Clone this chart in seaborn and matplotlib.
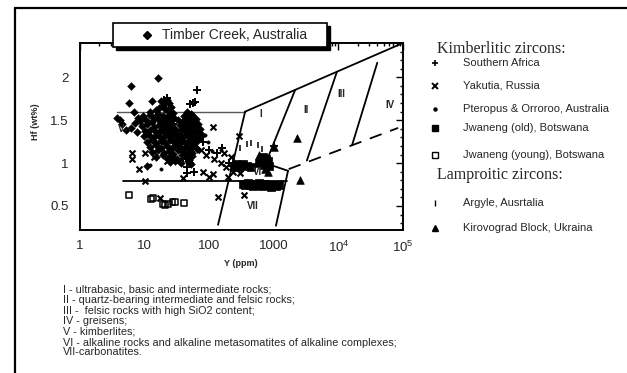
import matplotlib
matplotlib.use("Agg")
import numpy as np
import pandas as pd
import matplotlib.pyplot as plt
import seaborn as sns
from matplotlib.lines import Line2D
from matplotlib.patches import Rectangle
from matplotlib.ticker import FixedLocator, FixedFormatter, MultipleLocator, LogLocator, NullFormatter

# ---------------- data (Y ppm, Hf wt%) ----------------
timber_creek = [
    (6.2, 1.90), (16, 1.99), (5.7, 1.70), (13, 1.72), (6.8, 1.59), (3.8, 1.53), (6.2, 1.41),
    (4.5, 1.46), (5.2, 1.38), (11, 0.97), (4.2, 1.50), (7.2, 1.47), (7.6, 1.36), (8.0, 1.52),
    (18, 1.72), (20, 1.69), (22, 1.74), (19, 1.66), (24, 1.70),
    (15, 1.62), (17, 1.64), (21, 1.63), (23, 1.61), (26, 1.65), (12, 1.60), (28, 1.58), (46, 1.60), (52, 1.57),
    (9.5, 1.55), (12, 1.56), (14, 1.53), (16, 1.57), (19, 1.55), (22, 1.54), (25, 1.56), (29, 1.52),
    (41, 1.55), (48, 1.53), (55, 1.56), (62, 1.51),
    (8.6, 1.49), (10.5, 1.50), (13, 1.48), (16, 1.51), (18, 1.47), (21, 1.50), (24, 1.49), (27, 1.46),
    (33, 1.50), (38, 1.48), (44, 1.51), (50, 1.47), (57, 1.49), (66, 1.46),
    (9.2, 1.43), (11, 1.45), (14, 1.42), (17, 1.44), (20, 1.41), (22, 1.45), (25, 1.43), (30, 1.40),
    (35, 1.44), (41, 1.42), (46, 1.45), (53, 1.41), (60, 1.44), (71, 1.40),
    (10, 1.37), (12, 1.39), (15, 1.36), (18, 1.38), (21, 1.35), (24, 1.39), (28, 1.37), (32, 1.34),
    (37, 1.38), (43, 1.36), (49, 1.39), (55, 1.35), (63, 1.37), (76, 1.33),
    (9.8, 1.31), (11.5, 1.33), (14, 1.30), (16.5, 1.32), (19, 1.29), (23, 1.33), (26, 1.31), (31, 1.28),
    (36, 1.32), (40, 1.30), (45, 1.33), (51, 1.29), (58, 1.31), (67, 1.28),
    (10.8, 1.25), (13, 1.27), (15, 1.24), (18, 1.26), (21, 1.23), (25, 1.27), (29, 1.25), (34, 1.22),
    (39, 1.26), (44, 1.24), (50, 1.27), (56, 1.23), (62, 1.25),
    (12, 1.19), (15, 1.21), (18, 1.18), (22, 1.20), (26, 1.17), (30, 1.21), (35, 1.19), (41, 1.16),
    (46, 1.20), (52, 1.18), (57, 1.21), (65, 1.17),
    (13, 1.13), (16, 1.15), (20, 1.12), (24, 1.14), (28, 1.11), (33, 1.15), (39, 1.13), (45, 1.10),
    (50, 1.14), (55, 1.12),
    (15, 1.07), (19, 1.09), (23, 1.06), (27, 1.08), (32, 1.05), (38, 1.09), (44, 1.07), (49, 1.04), (54, 1.08),
    (25, 1.01), (30, 1.03), (47, 1.02), (52, 0.99), (36, 1.00),
]
southern_africa = [
    (65, 1.85), (56, 1.70), (50, 1.69), (60, 1.71), (20, 1.73), (22, 1.76), (45, 0.95), (46, 0.88),
    (58, 0.90), (50, 1.00), (40, 1.05), (70, 1.35), (80, 1.25), (100, 1.15), (130, 1.12), (160, 1.18),
    (200, 1.00), (240, 0.97), (1000, 1.20), (28, 1.45), (35, 1.25), (18, 1.35), (62, 1.42),
]
yakutia = [
    (6.3, 1.12), (6.3, 1.05), (8.2, 0.93), (10.2, 0.79), (10.2, 1.12), (14, 1.13), (14, 1.07), (22, 1.02),
    (39, 0.83), (80, 0.90), (115, 0.87), (100, 0.84), (195, 0.84), (170, 1.12), (215, 1.07), (135, 0.60),
    (17.5, 0.59), (115, 1.42), (290, 1.31), (340, 0.63), (60, 1.22), (70, 1.30), (75, 1.15), (90, 1.10),
    (120, 1.05), (150, 1.00), (180, 0.96), (230, 0.90), (260, 0.95), (300, 0.88),
]
pteropus_orroroo = [
    (12, 0.98), (18, 0.93), (150, 1.15), (110, 1.14), (60, 1.30), (95, 1.25), (85, 1.33), (40, 1.10),
]
jwaneng_old = [
    (330, 0.76), (360, 0.74), (400, 0.77), (430, 0.75), (470, 0.73), (520, 0.76), (560, 0.74), (600, 0.77),
    (650, 0.73), (700, 0.76), (760, 0.75), (800, 0.74), (900, 0.72), (1000, 0.75), (1100, 0.73), (1200, 0.74),
    (240, 0.97), (260, 0.99), (290, 0.96), (330, 0.99), (380, 0.97), (450, 0.96), (600, 1.00),
    (700, 0.98), (800, 1.02), (850, 0.97), (750, 1.05), (680, 1.07),
]
jwaneng_young = [
    (5.8, 0.63), (12.5, 0.58), (13.5, 0.59), (19, 0.52), (21, 0.51), (23, 0.52), (27, 0.55), (30, 0.55), (41, 0.53),
]
argyle = [(380, 1.22), (440, 1.23), (560, 1.21), (660, 1.16), (300, 1.18)]
kirovograd = [(2300, 1.29), (2550, 0.80), (1000, 1.19), (820, 0.90), (600, 1.09), (720, 0.93)]

# field boundaries (Y, Hf vertices)
line_upper_flat_Y, line_upper_flat_Hf = [3.7, 360], [1.6, 1.6]
line_upper_Y, line_upper_Hf = [360, 1e5], [1.6, 2.4]
line_left_Y, line_left_Hf = [137, 360], [0.28, 1.6]
line_lower_Y, line_lower_Hf = [4.6, 1600], [0.79, 0.79]
line_vi_top_Y, line_vi_top_Hf = [229, 880, 1660], [0.98, 0.98, 0.91]
line_vi_right_Y, line_vi_right_Hf = [1660, 1080], [0.91, 0.27]
line_1_2_Y, line_1_2_Hf = [2140, 750], [1.853, 1.0]
line_2_3_Y, line_2_3_Hf = [9500, 3250], [2.066, 1.03]
line_3_4_Y, line_3_4_Hf = [40000, 16300], [2.17, 1.21]
line_dash_Y, line_dash_Hf = [1700, 84000], [0.93, 1.41]

x_ticks = [1, 10, 100, 1000, 1e4, 1e5]
x_ticklabels = ["1", "10", "100", "1000", "$10^4$", "$10^5$"]
y_ticks = [0.5, 1, 1.5, 2]
y_ticklabels = ["0.5", "1", "1.5", "2"]

region_labels = [("I", 620, 1.57), ("II", 3100, 1.62), ("III", 11000, 1.80), ("IV", 63000, 1.68),
                 ("V", 4.4, 1.40), ("VI", 560, 0.90), ("VII", 470, 0.50)]

notes = [
    "I - ultrabasic, basic and intermediate rocks;",
    "II - quartz-bearing intermediate and felsic rocks;",
    "III -  felsic rocks with high SiO2 content;",
    "IV - greisens;",
    "V - kimberlites;",
    "VI - alkaline rocks and alkaline metasomatites of alkaline complexes;",
    "VII-carbonatites.",
]

# ---------------- figure ----------------
sns.set_style("white")
plt.rcParams['font.family'] = ['Liberation Sans', 'DejaVu Sans']
plt.rcParams['mathtext.fontset'] = 'custom'
plt.rcParams['mathtext.rm'] = 'Liberation Sans'

W, H = 627, 373
fig = plt.figure(figsize=(W / 100, H / 100), dpi=100)
fig.patch.set_facecolor("white")
ax = fig.add_axes([80 / W, 1 - 230 / H, 323 / W, 187 / H])
ax.set_xscale("log")

def draw(pts, **kw):
    df = pd.DataFrame(pts, columns=["Y", "Hf"])
    sns.scatterplot(data=df, x="Y", y="Hf", ax=ax, legend=False, color="black", zorder=3, **kw)

draw(timber_creek, marker="D", s=16, edgecolor="black", linewidth=0.3)
draw(southern_africa, marker="+", s=28, linewidth=1.4)
draw(yakutia, marker="x", s=18, linewidth=1.5)
draw(pteropus_orroroo, marker="o", s=6, edgecolor="black", linewidth=0.3)
draw(jwaneng_old, marker="s", s=32, edgecolor="black", linewidth=0.5)
draw(jwaneng_young, marker="s", s=18, facecolor="none", edgecolor="black", linewidth=1.1)
draw(argyle, marker="|", s=20, linewidth=1.1)
draw(kirovograd, marker="^", s=30, edgecolor="black", linewidth=0.5)

ax.plot(line_upper_flat_Y, line_upper_flat_Hf, color="0.35", lw=1.0, zorder=2)
for xs, ys in [(line_upper_Y, line_upper_Hf), (line_left_Y, line_left_Hf), (line_lower_Y, line_lower_Hf),
               (line_vi_top_Y, line_vi_top_Hf), (line_vi_right_Y, line_vi_right_Hf),
               (line_1_2_Y, line_1_2_Hf), (line_2_3_Y, line_2_3_Hf), (line_3_4_Y, line_3_4_Hf)]:
    ax.plot(xs, ys, color="black", lw=1.3, zorder=2)
ax.plot(line_dash_Y, line_dash_Hf, color="black", lw=1.3, dashes=(7, 5), zorder=2)

for lab, xv, yv in region_labels:
    ax.text(xv, yv, lab, fontsize=7, fontweight="bold", ha="center", va="center", zorder=4)

ax.set_xlim(1, 1e5)
ax.set_ylim(0.22, 2.40)
ax.xaxis.set_major_locator(FixedLocator(x_ticks))
ax.xaxis.set_major_formatter(FixedFormatter(x_ticklabels))
ax.xaxis.set_minor_locator(LogLocator(base=10, subs=np.arange(2, 10), numticks=20))
ax.xaxis.set_minor_formatter(NullFormatter())
ax.yaxis.set_major_locator(FixedLocator(y_ticks))
ax.yaxis.set_major_formatter(FixedFormatter(y_ticklabels))
ax.yaxis.set_minor_locator(MultipleLocator(0.1))
ax.tick_params(which="both", direction="in", top=True, right=True, color="black", width=1.0)
ax.tick_params(which="major", length=5, labelsize=9.5)
ax.tick_params(which="minor", length=2.5)
ax.tick_params(axis="x", which="major", pad=7)
ax.tick_params(axis="y", which="major", pad=8)
for sp in ax.spines.values():
    sp.set_color("black")
    sp.set_linewidth(1.4)
ax.set_xlabel("")
ax.set_ylabel("")

def fx(p): return p / W
def fy(p): return 1 - p / H

fig.text(fx(241), fy(264), "Y (ppm)", fontsize=6.5, fontweight="bold", ha="center", va="center")
fig.text(fx(35), fy(122), "Hf (wt%)", fontsize=6.5, fontweight="bold", ha="center", va="center",
         rotation=90)

# Timber Creek boxed label with shadow
bx0, bx1, by0, by1 = 113, 327, 23, 47
fig.add_artist(Rectangle((fx(bx0 + 3), fy(by1 + 3)), fx(bx1 - bx0), (by1 - by0) / H,
                         transform=fig.transFigure, facecolor="black", edgecolor="black", zorder=10))
fig.add_artist(Rectangle((fx(bx0), fy(by1)), fx(bx1 - bx0), (by1 - by0) / H,
                         transform=fig.transFigure, facecolor="white", edgecolor="black", lw=1.2, zorder=11))
fig.add_artist(Line2D([fx(147)], [fy(35)], marker="D", markersize=3.6, color="black",
                      transform=fig.transFigure, zorder=12))
fig.text(fx(162), fy(35), "Timber Creek, Australia", fontsize=10, va="center", ha="left", zorder=12)

# right-hand legend
serif = ["Liberation Serif", "DejaVu Serif"]
fig.text(fx(437), fy(49), "Kimberlitic zircons:", fontsize=11.5, family=serif, va="center", ha="left")
fig.text(fx(437), fy(175), "Lamproitic zircons:", fontsize=11.5, family=serif, va="center", ha="left")
legend_rows = [
    ("+", dict(markersize=5, markeredgewidth=1.2), "Southern Africa", 63),
    ("x", dict(markersize=4, markeredgewidth=1.4), "Yakutia, Russia", 86),
    ("o", dict(markersize=2.2), "Pteropus & Orroroo, Australia", 109),
    ("s", dict(markersize=4.5), "Jwaneng (old), Botswana", 128),
    ("s", dict(markersize=4, markerfacecolor="none", markeredgewidth=1.0), "Jwaneng (young), Botswana", 155),
    ("|", dict(markersize=4, markeredgewidth=1.0), "Argyle, Ausrtalia", 203),
    ("^", dict(markersize=4.5), "Kirovograd Block, Ukraina", 228),
]
for mk, style, lab, yy in legend_rows:
    kw = dict(color="black", markeredgecolor="black")
    kw.update(style)
    fig.add_artist(Line2D([fx(435)], [fy(yy)], marker=mk, linestyle="none",
                          transform=fig.transFigure, **kw))
    fig.text(fx(463), fy(yy), lab, fontsize=8, va="center", ha="left")

# notes under the chart
note_y = [289, 300, 311, 321, 332, 343, 352]
for t, yy in zip(notes, note_y):
    fig.text(fx(63), fy(yy), t, fontsize=7.8, va="center", ha="left")

# page frame lines
fig.add_artist(Line2D([fx(15), fx(627)], [fy(8), fy(8)], color="black", lw=1.6, transform=fig.transFigure))
fig.add_artist(Line2D([fx(15), fx(15)], [fy(8), fy(373)], color="black", lw=1.6, transform=fig.transFigure))

fig.savefig("out.png", dpi=100, facecolor="white")
